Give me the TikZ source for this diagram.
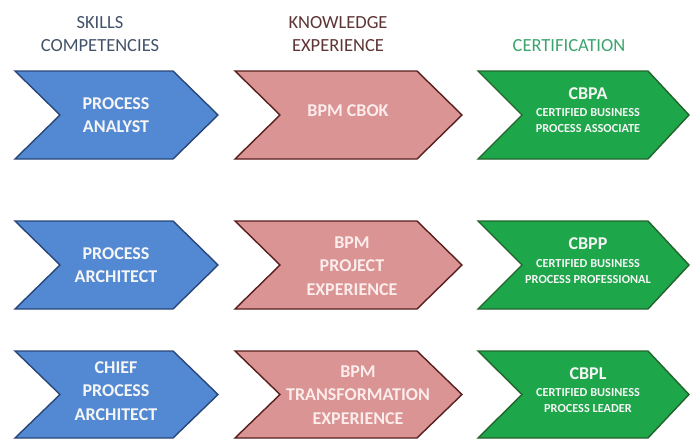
\documentclass[tikz,border=0pt]{standalone}
\usepackage{fontspec}
\setmainfont{Carlito}
\definecolor{cblue}{RGB}{83,137,211}
\definecolor{cbluedk}{RGB}{40,70,120}
\definecolor{cpink}{RGB}{217,148,147}
\definecolor{cpinkdk}{RGB}{88,30,30}
\definecolor{cgreen}{RGB}{30,166,74}
\definecolor{cgreendk}{RGB}{35,100,45}
\definecolor{hblue}{RGB}{65,82,105}
\definecolor{hred}{RGB}{94,52,52}
\definecolor{hgreen}{RGB}{60,165,110}
\definecolor{txtw}{RGB}{245,245,245}
\definecolor{txtp}{RGB}{252,236,236}
\newcommand\mychev[7]{%
  \draw[#1] (#2,#6) -- (#4,#6) -- (#5,{(#6+#7)/2}) -- (#4,#7) -- (#2,#7) -- (#3,{(#6+#7)/2}) -- cycle;}
\begin{document}
\begin{tikzpicture}[x=1pt,y=-1pt,
  chev/.style={line width=1.4pt, line join=miter},
  bluechev/.style={chev, fill=cblue, draw=cbluedk},
  pinkchev/.style={chev, fill=cpink, draw=cpinkdk},
  greenchev/.style={chev, fill=cgreen, draw=cgreendk},
  lbl/.style={font=\bfseries\fontsize{18}{23.5}\selectfont, text=txtw, align=center, inner sep=0pt},
  plbl/.style={lbl, text=txtp},
  glbl/.style={font=\bfseries\fontsize{12.3}{16}\selectfont, text=txtw, align=center, inner sep=0pt},
  gtitle/.style={font=\bfseries\fontsize{18}{20}\selectfont, text=txtw, inner sep=0pt},
  hdr/.style={font=\fontsize{18.5}{23}\selectfont, align=center, inner sep=0pt}]
\useasboundingbox[fill=white] (0,0) rectangle (694,439);

% headers
\node[hdr, text=hblue] (h1) at (100,34) {SKILLS\\COMPETENCIES};
\node[hdr, text=hred] (h2) at (338,34) {KNOWLEDGE\\EXPERIENCE};
\node[hdr, text=hgreen] (h3) at (569,46) {CERTIFICATION};

% row 1
\mychev{bluechev}{15}{60}{173}{218}{71}{159}
\mychev{pinkchev}{235}{280}{417}{462}{71}{159}
\mychev{greenchev}{478}{522}{648}{689}{71}{159}
% row 2
\mychev{bluechev}{15}{60}{173}{218}{221}{309}
\mychev{pinkchev}{235}{280}{417}{462}{221}{309}
\mychev{greenchev}{478}{522}{648}{689}{221}{309}
% row 3
\mychev{bluechev}{15}{60}{173}{218}{351}{438}
\mychev{pinkchev}{235}{280}{417}{462}{351}{438}
\mychev{greenchev}{478}{522}{648}{689}{351}{438}

% blue labels
\node[lbl] (b1) at (116,115) {PROCESS\\ANALYST};
\node[lbl] (b2) at (116,265) {PROCESS\\ARCHITECT};
\node[lbl] (b3) at (116,391) {CHIEF\\PROCESS\\ARCHITECT};

% pink labels
\node[plbl] (p1) at (348,111) {BPM CBOK};
\node[plbl] (p2) at (352,266) {BPM\\PROJECT\\EXPERIENCE};
\node[plbl] (p3) at (358,395) {BPM\\TRANSFORMATION\\EXPERIENCE};

% green labels
\node[gtitle] (g1t) at (588,94) {CBPA};
\node[glbl] (g1) at (588,121) {CERTIFIED BUSINESS\\PROCESS ASSOCIATE};
\node[gtitle] (g2t) at (588,244) {CBPP};
\node[glbl] (g2) at (588,271.5) {CERTIFIED BUSINESS\\PROCESS PROFESSIONAL};
\node[gtitle] (g3t) at (588,373.5) {CBPL};
\node[glbl] (g3) at (588,401) {CERTIFIED BUSINESS\\PROCESS LEADER};
\end{tikzpicture}
\end{document}
